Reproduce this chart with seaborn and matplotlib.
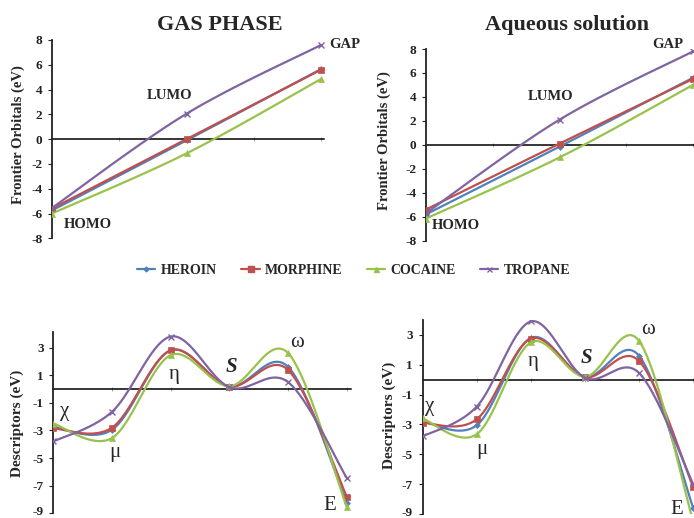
import numpy as np
import matplotlib
matplotlib.use("Agg")
import matplotlib.pyplot as plt
import matplotlib.transforms as mtransforms
from matplotlib.lines import Line2D
import seaborn as sns

# ---- data -------------------------------------------------------------
compounds = ["HEROIN", "MORPHINE", "COCAINE", "TROPANE"]
orbital_labels = ["HOMO", "LUMO", "GAP"]
descriptor_labels = ["χ", "μ", "η", "S", "ω", "E"]

# frontier orbitals (eV): HOMO, LUMO, GAP
gas_heroin = [-5.75, -0.10, 5.65]
gas_morphine = [-5.60, 0.00, 5.60]
gas_cocaine = [-6.00, -1.15, 4.85]
gas_tropane = [-5.55, 2.05, 7.60]

aq_heroin = [-5.80, -0.15, 5.60]
aq_morphine = [-5.40, 0.10, 5.50]
aq_cocaine = [-6.15, -1.05, 5.00]
aq_tropane = [-5.70, 2.10, 7.80]

# reactivity descriptors (eV): chi, mu, eta, S, omega, E
gas_desc_heroin = [-2.75, -2.95, 2.80, 0.18, 1.60, -8.25]
gas_desc_morphine = [-2.85, -2.80, 2.80, 0.18, 1.38, -7.80]
gas_desc_cocaine = [-2.50, -3.55, 2.45, 0.20, 2.60, -8.55]
gas_desc_tropane = [-3.80, -1.65, 3.80, 0.13, 0.50, -6.45]

aq_desc_heroin = [-2.80, -3.05, 2.80, 0.18, 1.60, -8.60]
aq_desc_morphine = [-2.90, -2.65, 2.75, 0.18, 1.25, -7.20]
aq_desc_cocaine = [-2.60, -3.65, 2.50, 0.20, 2.60, -9.50]
aq_desc_tropane = [-3.80, -1.80, 3.90, 0.13, 0.45, -7.00]

# ---- style ------------------------------------------------------------
sns.set_theme(style="white")
SERIF = ["Liberation Serif", "DejaVu Serif"]
plt.rcParams["font.family"] = SERIF

colors = {"HEROIN": "#4F81BD", "MORPHINE": "#C0504D",
          "COCAINE": "#99C24D", "TROPANE": "#8064A2"}
markers = {"HEROIN": "D", "MORPHINE": "s", "COCAINE": "^", "TROPANE": "x"}
msizes = {"HEROIN": 3.0, "MORPHINE": 5.0, "COCAINE": 4.5, "TROPANE": 4.5}

NSEG = 40


def smooth(ys):
    """Bezier smoothing through the points (Catmull-Rom style control points)."""
    pts = np.column_stack([np.arange(len(ys), dtype=float), np.asarray(ys, float)])
    out = []
    for i in range(len(pts) - 1):
        p0 = pts[i - 1] if i > 0 else pts[i]
        p1, p2 = pts[i], pts[i + 1]
        p3 = pts[i + 2] if i + 2 < len(pts) else pts[i + 1]
        c1 = p1 + (p2 - p0) / 6.0
        c2 = p2 - (p3 - p1) / 6.0
        t = np.linspace(0, 1, NSEG, endpoint=False)[:, None]
        out.append((1 - t) ** 3 * p1 + 3 * (1 - t) ** 2 * t * c1
                   + 3 * (1 - t) * t ** 2 * c2 + t ** 3 * p2)
    out.append(pts[-1:])
    return np.vstack(out)


def draw_panel(ax, series, xlim, ylim, yticks, xticks):
    for name, ys in zip(compounds, series):
        curve = smooth(ys)
        every = list(range(0, len(curve), NSEG))
        mk = markers[name]
        sns.lineplot(x=curve[:, 0], y=curve[:, 1], ax=ax, sort=False,
                     estimator=None, color=colors[name], lw=1.6,
                     marker=mk, markevery=every, ms=msizes[name],
                     mew=1.0 if mk == "x" else 0.5,
                     mec=colors[name], zorder=3)
    ax.set_xlim(*xlim)
    ax.set_ylim(*ylim)
    ax.set_yticks(yticks)
    ax.set_yticklabels([f"{v:g}" for v in yticks], fontweight="bold",
                       fontsize=9.5)
    ax.set_xticks(xticks)
    ax.set_xticklabels([])
    for s in ("top", "right"):
        ax.spines[s].set_visible(False)
    ax.spines["left"].set_color("#222222")
    ax.spines["left"].set_linewidth(1.3)
    ax.spines["bottom"].set_position(("data", 0))
    ax.spines["bottom"].set_color("black")
    ax.spines["bottom"].set_linewidth(1.1)
    ax.spines["bottom"].set_zorder(2)
    ax.tick_params(axis="y", left=True, length=3, width=0.8, pad=4,
                   colors="#222222")
    ax.tick_params(axis="x", bottom=True, length=3, width=0.6,
                   direction="inout", colors="#999999")
    ax.set_xlabel("")
    ax.set_ylabel("")
    ax.patch.set_alpha(0)


W, H = 694, 518
fig = plt.figure(figsize=(W / 100, H / 100), dpi=100)


def px_axes(left, top, right, bottom):
    return fig.add_axes([left / W, 1 - bottom / H, (right - left) / W,
                         (bottom - top) / H])


# frontier orbitals
ax_tl = px_axes(52, 40, 52 + 2.02 * 134.5, 238.3)
ax_tr = px_axes(426, 49, 426 + 2.02 * 133.5, 240.7)
# descriptors
ax_bl = px_axes(53.3, 331.7, 53.3 + 5.07 * 58.7, 513.3)
ax_br = px_axes(422.7, 320, 422.7 + 5.07 * 54.1, 514)

draw_panel(ax_tl, [gas_heroin, gas_morphine, gas_cocaine, gas_tropane],
           (0, 2.02), (-8, 8), list(range(-8, 9, 2)), [0.5, 1, 1.5, 2])
draw_panel(ax_tr, [aq_heroin, aq_morphine, aq_cocaine, aq_tropane],
           (0, 2.02), (-8, 8), list(range(-8, 9, 2)), [0.5, 1, 1.5, 2])
draw_panel(ax_bl, [gas_desc_heroin, gas_desc_morphine, gas_desc_cocaine,
                   gas_desc_tropane],
           (0, 5.07), (-9, 4.15), list(range(-9, 4, 2)), [1, 2, 3, 4, 5])
draw_panel(ax_br, [aq_desc_heroin, aq_desc_morphine, aq_desc_cocaine,
                   aq_desc_tropane],
           (0, 5.07), (-9, 4.0), list(range(-9, 4, 2)), [1, 2, 3, 4, 5])

# keep the lowest descriptor tick label inside the canvas
lift = mtransforms.ScaledTranslation(0, 3 / 100, fig.dpi_scale_trans)
for ax in (ax_bl, ax_br):
    lab = ax.get_yticklabels()[0]
    lab.set_transform(lab.get_transform() + lift)

# titles
fig.text(220 / W, 1 - 25 / H, "GAS PHASE", ha="center", va="center",
         fontsize=16, fontweight="bold")
fig.text(567 / W, 1 - 25 / H, "Aqueous solution", ha="center", va="center",
         fontsize=16, fontweight="bold")

# axis titles
fig.text(18 / W, 1 - 135 / H, "Frontier Orbitals (eV)", rotation=90,
         ha="center", va="center", fontsize=10.5, fontweight="bold")
fig.text(384 / W, 1 - 141 / H, "Frontier Orbitals (eV)", rotation=90,
         ha="center", va="center", fontsize=10.5, fontweight="bold")
fig.text(17.5 / W, 1 - 423 / H, "Descriptors (eV)", rotation=90,
         ha="center", va="center", fontsize=11, fontweight="bold")
fig.text(389 / W, 1 - 415 / H, "Descriptors (eV)", rotation=90,
         ha="center", va="center", fontsize=11, fontweight="bold")

# orbital labels
orb_pos_gas = [(0.264, -6.85), (0.877, 3.5), (2.18, 7.6)]
orb_pos_aq = [(0.225, -6.69), (0.933, 4.04), (1.813, 8.34)]
for ax, pos in ((ax_tl, orb_pos_gas), (ax_tr, orb_pos_aq)):
    for lab, (x, y) in zip(orbital_labels, pos):
        ax.text(x, y, lab, ha="center", va="center", fontsize=10.5,
                fontweight="bold", clip_on=False)

# descriptor labels
desc_pos_gas = [(0.2, -1.66), (1.05, -4.63), (2.06, 1.02), (3.04, 1.62),
                (4.15, 3.36), (4.71, -8.4)]
desc_pos_aq = [(0.135, -1.81), (1.09, -4.71), (2.04, 1.21), (3.03, 1.44),
               (4.17, 3.33), (4.695, -8.73)]
for ax, pos in ((ax_bl, desc_pos_gas), (ax_br, desc_pos_aq)):
    for lab, (x, y) in zip(descriptor_labels, pos):
        if lab == "S":
            ax.text(x, y, lab, ha="center", va="center", fontsize=15,
                    fontweight="bold", fontstyle="italic", clip_on=False)
        else:
            ax.text(x, y, lab, ha="center", va="center", fontsize=15,
                    clip_on=False)

# shared legend
handles = [Line2D([], [], color=colors[c], lw=1.6, marker=markers[c],
                  ms=msizes[c] * 0.8, mec=colors[c]) for c in compounds]
fig.legend(handles, compounds, loc="center",
           bbox_to_anchor=(354 / W, 1 - 270 / H), ncol=4, frameon=False,
           prop={"family": SERIF, "weight": "bold", "size": 10},
           handlelength=1.3, handletextpad=0.4, columnspacing=1.75)

fig.savefig("out.png", dpi=100)
